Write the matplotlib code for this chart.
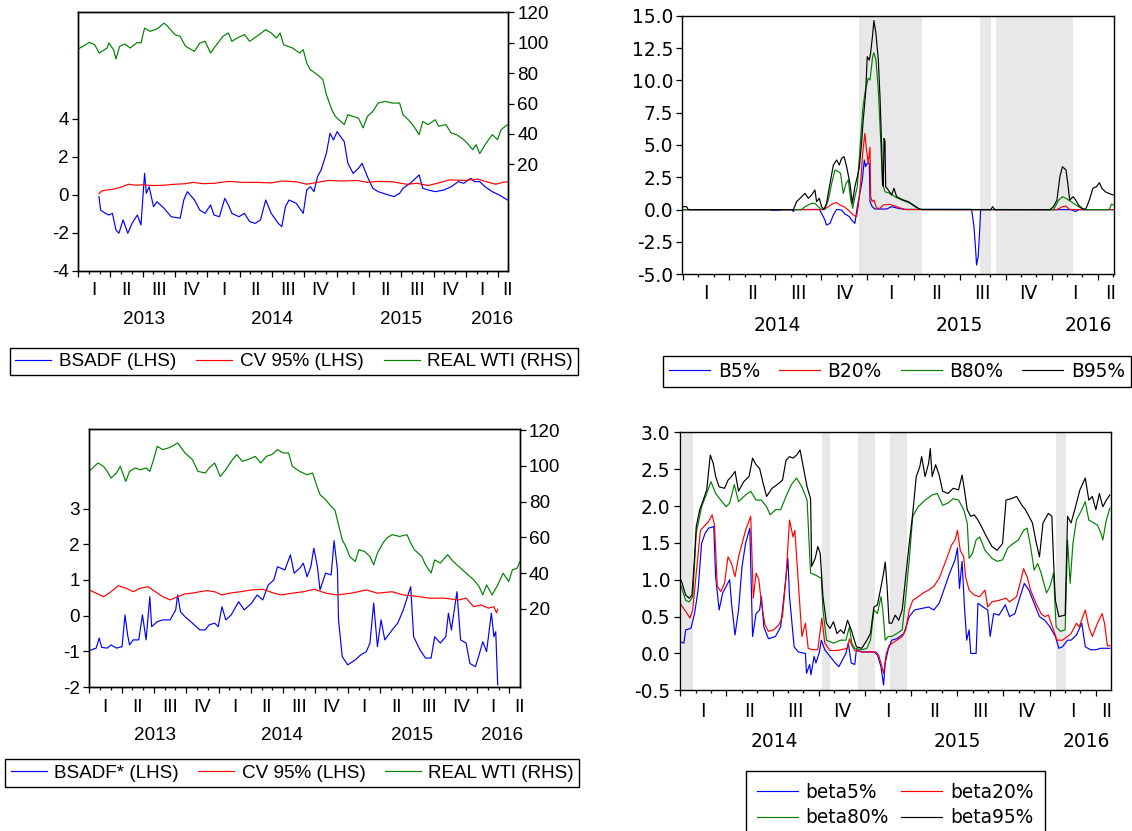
import matplotlib
matplotlib.use("Agg")
import matplotlib.pyplot as plt
import numpy as np

plt.rcParams['font.family'] = ['Liberation Sans', 'DejaVu Sans']
plt.rcParams['axes.unicode_minus'] = False

# ---------------- Panel 1 (top-left) ----------------
p1_wti_t = [2013.000, 2013.060, 2013.087, 2013.129, 2013.164, 2013.225, 2013.239, 2013.275, 2013.294, 2013.322,
            2013.363, 2013.404, 2013.459, 2013.487, 2013.515, 2013.556, 2013.611, 2013.666, 2013.694, 2013.749,
            2013.790, 2013.832, 2013.901, 2013.942, 2013.983, 2014.025, 2014.052, 2014.121, 2014.163, 2014.190,
            2014.232, 2014.287, 2014.328, 2014.383, 2014.452, 2014.494, 2014.535, 2014.563, 2014.590, 2014.659,
            2014.714, 2014.742, 2014.769, 2014.797, 2014.852, 2014.894, 2014.921, 2014.963, 2014.990, 2015.018,
            2015.059, 2015.087, 2015.128, 2015.169, 2015.205, 2015.238, 2015.280, 2015.321, 2015.376, 2015.431,
            2015.487, 2015.514, 2015.555, 2015.597, 2015.638, 2015.666, 2015.707, 2015.762, 2015.790, 2015.845,
            2015.886, 2015.928, 2015.983, 2016.010, 2016.052, 2016.079, 2016.107, 2016.148, 2016.204, 2016.245,
            2016.272, 2016.322]
p1_wti_v = [95.8, 98.7, 100.2, 98.7, 93.2, 96.5, 99.8, 95.4, 89.3, 97.6,
            99.1, 96.5, 100.2, 99.8, 109.6, 107.5, 109.0, 112.9, 110.7, 105.3,
            104.2, 97.6, 94.3, 99.8, 100.9, 93.2, 96.5, 104.2, 106.4, 100.9,
            103.1, 105.3, 100.9, 104.2, 108.6, 106.4, 103.1, 106.4, 98.7, 96.5,
            93.2, 95.4, 86.6, 82.2, 78.9, 75.7, 65.8, 55.9, 51.5, 49.3,
            46.1, 52.6, 51.5, 50.4, 43.9, 51.5, 54.8, 60.3, 61.4, 60.3,
            60.3, 52.6, 49.3, 45.0, 39.5, 48.2, 46.1, 49.3, 45.0, 46.1,
            40.6, 39.5, 36.2, 34.0, 29.6, 32.9, 27.0, 32.9, 39.5, 36.2,
            42.8, 46.1]
p1_bsadf_t = [2013.162, 2013.175, 2013.211, 2013.239, 2013.266, 2013.294, 2013.316, 2013.349, 2013.385, 2013.418,
              2013.459, 2013.487, 2013.515, 2013.528, 2013.550, 2013.584, 2013.611, 2013.666, 2013.721, 2013.790,
              2013.818, 2013.846, 2013.901, 2013.942, 2013.983, 2014.025, 2014.052, 2014.094, 2014.135, 2014.163,
              2014.190, 2014.245, 2014.287, 2014.328, 2014.370, 2014.411, 2014.452, 2014.494, 2014.549, 2014.576,
              2014.604, 2014.632, 2014.687, 2014.742, 2014.769, 2014.797, 2014.825, 2014.852, 2014.880, 2014.921,
              2014.949, 2014.976, 2015.004, 2015.031, 2015.059, 2015.087, 2015.128, 2015.169, 2015.197, 2015.238,
              2015.280, 2015.321, 2015.362, 2015.404, 2015.445, 2015.487, 2015.514, 2015.569, 2015.638, 2015.666,
              2015.707, 2015.762, 2015.831, 2015.886, 2015.942, 2015.983, 2016.038, 2016.066, 2016.107, 2016.148,
              2016.204, 2016.259, 2016.322]
p1_bsadf_v = [-0.10, -0.81, -0.98, -1.07, -0.98, -1.86, -2.03, -1.33, -2.03, -1.51,
              -1.07, -1.59, 1.12, 0.07, 0.42, -0.63, -0.37, -0.72, -1.16, -1.24,
              -0.28, 0.16, -0.28, -0.81, -0.98, -0.54, -1.07, -1.16, -0.19, -0.54,
              -0.98, -1.16, -0.98, -1.42, -1.51, -1.33, -0.28, -0.98, -1.51, -1.68,
              -0.63, -0.28, -0.45, -0.98, 0.25, 0.42, 0.16, 0.95, 1.30, 2.18,
              3.23, 2.88, 3.32, 3.05, 2.79, 1.65, 1.12, 1.39, 1.65, 0.95,
              0.34, 0.16, 0.07, -0.02, -0.10, 0.07, 0.34, 0.60, 1.04, 0.34,
              0.25, 0.16, 0.25, 0.42, 0.69, 0.60, 0.86, 0.69, 0.69, 0.42,
              0.16, -0.02, -0.28]
p1_cv_t = [2013.162, 2013.184, 2013.225, 2013.280, 2013.335, 2013.391, 2013.446, 2013.501, 2013.584, 2013.666,
           2013.749, 2013.832, 2013.887, 2013.970, 2014.052, 2014.163, 2014.273, 2014.383, 2014.494, 2014.576,
           2014.687, 2014.769, 2014.852, 2014.935, 2015.045, 2015.156, 2015.238, 2015.321, 2015.431, 2015.542,
           2015.624, 2015.707, 2015.790, 2015.873, 2015.983, 2016.093, 2016.176, 2016.231, 2016.286, 2016.322]
p1_cv_v = [0.05, 0.20, 0.25, 0.30, 0.40, 0.55, 0.50, 0.52, 0.48, 0.50,
           0.55, 0.58, 0.65, 0.58, 0.60, 0.70, 0.65, 0.65, 0.62, 0.72,
           0.68, 0.55, 0.65, 0.75, 0.72, 0.75, 0.65, 0.70, 0.68, 0.55,
           0.60, 0.48, 0.62, 0.78, 0.75, 0.82, 0.65, 0.55, 0.65, 0.68]

# ---------------- Panel 3 (bottom-left) ----------------
p3_wti_t = [2013.000, 2013.040, 2013.068, 2013.111, 2013.140, 2013.169, 2013.211, 2013.240, 2013.283, 2013.312,
            2013.355, 2013.397, 2013.440, 2013.469, 2013.498, 2013.526, 2013.569, 2013.612, 2013.641, 2013.684,
            2013.741, 2013.798, 2013.841, 2013.898, 2013.927, 2013.970, 2014.013, 2014.056, 2014.098, 2014.141,
            2014.184, 2014.227, 2014.284, 2014.327, 2014.370, 2014.413, 2014.456, 2014.499, 2014.542, 2014.571,
            2014.628, 2014.685, 2014.728, 2014.757, 2014.785, 2014.828, 2014.871, 2014.900, 2014.928, 2014.957,
            2014.985, 2015.014, 2015.057, 2015.086, 2015.129, 2015.171, 2015.200, 2015.229, 2015.272, 2015.300,
            2015.343, 2015.400, 2015.458, 2015.486, 2015.515, 2015.572, 2015.601, 2015.644, 2015.672, 2015.715,
            2015.772, 2015.815, 2015.858, 2015.915, 2015.973, 2016.015, 2016.044, 2016.073, 2016.116, 2016.159,
            2016.201, 2016.244, 2016.273, 2016.310, 2016.330]
p3_wti_v = [96.9, 99.7, 101.6, 99.7, 96.9, 93.2, 96.0, 99.7, 91.3, 96.9,
            98.8, 97.8, 98.8, 96.9, 103.5, 110.9, 109.1, 110.0, 110.9, 112.8,
            107.2, 103.5, 96.9, 96.0, 98.8, 101.6, 94.1, 97.8, 102.5, 106.3,
            102.5, 103.5, 105.3, 101.6, 105.3, 106.3, 109.1, 107.2, 107.2, 99.7,
            96.9, 95.0, 96.0, 89.5, 83.9, 81.1, 77.3, 75.4, 67.0, 58.6,
            54.9, 49.3, 46.5, 53.1, 52.1, 49.3, 44.6, 51.2, 56.8, 59.6,
            61.5, 60.5, 61.5, 56.8, 53.1, 49.3, 44.6, 40.0, 47.4, 45.6,
            50.3, 46.5, 43.7, 40.0, 36.3, 32.5, 27.8, 33.4, 27.8, 33.4,
            40.0, 35.3, 41.8, 42.8, 46.5]
p3_bsadf_t = [2013.000, 2013.054, 2013.077, 2013.097, 2013.140, 2013.169, 2013.211, 2013.254, 2013.277, 2013.297,
              2013.312, 2013.340, 2013.383, 2013.412, 2013.440, 2013.469, 2013.483, 2013.526, 2013.569, 2013.626,
              2013.669, 2013.684, 2013.706, 2013.741, 2013.798, 2013.855, 2013.898, 2013.927, 2013.970, 2013.998,
              2014.027, 2014.056, 2014.098, 2014.156, 2014.199, 2014.256, 2014.299, 2014.342, 2014.385, 2014.428,
              2014.456, 2014.513, 2014.556, 2014.585, 2014.628, 2014.656, 2014.685, 2014.714, 2014.737, 2014.765,
              2014.785, 2014.828, 2014.871, 2014.894, 2014.920, 2014.928, 2014.957, 2015.000, 2015.057, 2015.100,
              2015.143, 2015.171, 2015.200, 2015.229, 2015.257, 2015.286, 2015.343, 2015.386, 2015.429, 2015.486,
              2015.509, 2015.558, 2015.601, 2015.644, 2015.672, 2015.715, 2015.758, 2015.778, 2015.801, 2015.844,
              2015.872, 2015.915, 2015.944, 2015.987, 2016.015, 2016.044, 2016.073, 2016.110, 2016.130, 2016.144,
              2016.159]
p3_bsadf_v = [-0.98, -0.91, -0.63, -0.89, -0.91, -0.82, -0.91, -0.87, 0.02, -0.54,
              -0.82, -0.68, -0.68, 0.02, -0.68, 0.53, -0.31, -0.17, -0.12, -0.12,
              0.16, 0.58, 0.11, -0.03, -0.21, -0.40, -0.40, -0.26, -0.21, -0.31,
              0.25, -0.12, 0.02, 0.39, 0.16, 0.35, 0.58, 0.44, 0.86, 1.00,
              1.37, 1.28, 1.70, 1.19, 1.33, 1.47, 1.09, 1.37, 1.89, 1.37,
              0.72, 1.19, 1.14, 2.10, 1.28, -0.12, -1.15, -1.38, -1.24, -1.10,
              -1.01, -0.77, 0.35, -0.87, -0.12, -0.68, -0.40, -0.21, 0.16, 0.81,
              -0.59, -0.96, -1.19, -1.19, -0.59, -0.77, -0.59, 0.07, -0.40, 0.67,
              -0.68, -0.77, -1.34, -1.43, -1.10, -0.73, -1.01, 0.07, -0.59, -0.45,
              -1.94]
p3_cv_t = [2013.000, 2013.054, 2013.111, 2013.169, 2013.226, 2013.297, 2013.340, 2013.397, 2013.455, 2013.512,
           2013.569, 2013.626, 2013.684, 2013.741, 2013.798, 2013.855, 2013.912, 2013.970, 2014.027, 2014.084,
           2014.170, 2014.256, 2014.342, 2014.428, 2014.485, 2014.571, 2014.656, 2014.742, 2014.828, 2014.914,
           2015.028, 2015.143, 2015.229, 2015.343, 2015.429, 2015.515, 2015.629, 2015.744, 2015.858, 2015.915,
           2015.973, 2016.030, 2016.087, 2016.130, 2016.150, 2016.159]
p3_cv_v = [0.72, 0.63, 0.53, 0.67, 0.84, 0.75, 0.67, 0.77, 0.81, 0.67,
           0.53, 0.44, 0.53, 0.61, 0.63, 0.67, 0.70, 0.67, 0.58, 0.63,
           0.67, 0.72, 0.74, 0.63, 0.58, 0.63, 0.67, 0.74, 0.63, 0.58,
           0.63, 0.72, 0.63, 0.67, 0.58, 0.55, 0.49, 0.49, 0.44, 0.49,
           0.25, 0.30, 0.21, 0.25, 0.08, 0.18]

# ---------------- Panel 2 (top-right) ----------------
p2_b95_t = [2014.000, 2014.019, 2014.028, 2014.598, 2014.616, 2014.643, 2014.661, 2014.679, 2014.697, 2014.715,
            2014.724, 2014.739, 2014.751, 2014.764, 2014.778, 2014.797, 2014.815, 2014.833, 2014.847, 2014.860,
            2014.873, 2014.887, 2014.905, 2014.918, 2014.932, 2014.945, 2014.956, 2014.968, 2014.977, 2014.990,
            2014.999, 2015.010, 2015.017, 2015.028, 2015.035, 2015.046, 2015.059, 2015.068, 2015.077, 2015.082,
            2015.086, 2015.090, 2015.095, 2015.099, 2015.113, 2015.131, 2015.144, 2015.158, 2015.194, 2015.222,
            2015.249, 2015.276, 2015.294, 2015.669, 2015.679, 2015.692, 2015.990, 2016.009, 2016.028, 2016.044,
            2016.058, 2016.077, 2016.087, 2016.097, 2016.116, 2016.130, 2016.145, 2016.165, 2016.184, 2016.204,
            2016.223, 2016.243, 2016.258, 2016.272, 2016.291, 2016.311, 2016.334]
p2_b95_v = [0.23, 0.23, 0.0, 0.0, 0.62, 1.00, 1.26, 0.88, 1.13, 1.52,
            0.62, 0.88, 0.23, 0.02, 0.49, 2.03, 3.45, 3.84, 3.45, 3.97,
            4.10, 3.33, 2.03, 0.49, 1.78, 2.55, 3.33, 5.13, 6.93, 8.99,
            11.83, 11.57, 12.09, 13.51, 14.62, 13.64, 11.57, 8.74, 5.00, 2.03,
            1.80, 5.50, 5.30, 1.78, 1.52, 1.13, 1.65, 1.00, 0.75, 0.62,
            0.36, 0.10, 0.0, 0.0, 0.23, 0.0, 0.0, 0.23, 0.74, 2.55,
            3.32, 3.07, 2.03, 0.74, 1.00, 0.74, 0.36, 0.10, 0.02, 0.74,
            1.65, 1.78, 2.08, 1.65, 1.38, 1.25, 1.13]
p2_b80_t = [2014.000, 2014.643, 2014.661, 2014.679, 2014.697, 2014.715, 2014.733, 2014.751, 2014.769, 2014.788,
            2014.806, 2014.824, 2014.842, 2014.854, 2014.869, 2014.884, 2014.896, 2014.909, 2014.920, 2014.932,
            2014.945, 2014.959, 2014.974, 2014.986, 2015.004, 2015.014, 2015.028, 2015.035, 2015.046, 2015.059,
            2015.071, 2015.082, 2015.095, 2015.122, 2015.149, 2015.185, 2015.231, 2015.258, 2015.285, 2016.009,
            2016.038, 2016.058, 2016.077, 2016.106, 2016.145, 2016.174, 2016.311, 2016.324, 2016.334]
p2_b80_v = [0.0, 0.0, 0.23, 0.36, 0.49, 0.49, 0.23, 0.02, 0.05, 0.75,
            2.03, 3.07, 2.94, 2.81, 1.26, 2.03, 2.30, 0.75, 0.10, 1.00,
            1.78, 4.61, 7.71, 9.00, 10.16, 10.03, 11.83, 12.14, 11.57, 9.25,
            5.64, 2.03, 1.39, 1.26, 1.00, 0.75, 0.49, 0.23, 0.02, 0.0,
            0.74, 1.00, 0.87, 0.61, 0.23, 0.0, 0.0, 0.43, 0.36]
p2_b20_t = [2014.000, 2014.764, 2014.788, 2014.815, 2014.833, 2014.851, 2014.873, 2014.896, 2014.923, 2014.941,
            2014.950, 2014.963, 2014.974, 2014.986, 2014.995, 2015.004, 2015.014, 2015.017, 2015.026, 2015.035,
            2015.050, 2015.068, 2015.086, 2015.122, 2015.158, 2015.194, 2015.212, 2016.028, 2016.058, 2016.077,
            2016.097, 2016.334]
p2_b20_v = [0.0, 0.0, 0.23, 0.49, 0.54, 0.36, 0.23, -0.03, -0.41, -0.54,
            0.23, 2.03, 4.36, 5.90, 4.61, 3.58, 4.82, 1.00, 0.62, 0.75,
            0.10, 0.10, 0.36, 0.41, 0.23, 0.05, 0.0, 0.0, 0.23, 0.28,
            0.0, 0.0]
p2_b5_t = [2014.000, 2014.471, 2014.480, 2014.525, 2014.535, 2014.590, 2014.598, 2014.606, 2014.739, 2014.751,
           2014.769, 2014.778, 2014.797, 2014.815, 2014.833, 2014.860, 2014.878, 2014.887, 2014.902, 2014.914,
           2014.932, 2014.945, 2014.959, 2014.972, 2014.983, 2014.990, 2014.999, 2015.010, 2015.014, 2015.026,
           2015.040, 2015.104, 2015.131, 2015.167, 2015.203, 2015.565, 2015.578, 2015.587, 2015.592, 2015.601,
           2015.610, 2015.614, 2016.106, 2016.130, 2016.145, 2016.334]
p2_b5_v = [0.0, 0.0, -0.05, -0.05, 0.0, 0.0, -0.15, 0.0, 0.02, -0.28,
           -0.80, -1.19, -1.06, -0.41, 0.02, -0.03, -0.34, -0.41, -0.54, -0.80,
           -1.06, 0.23, 1.26, 2.29, 3.84, 3.33, 3.58, 3.58, 0.62, 0.23,
           0.05, 0.05, 0.23, 0.10, 0.02, 0.02, -1.32, -3.12, -4.28, -3.63,
           -1.31, 0.0, 0.0, -0.15, 0.0, 0.0]
p2_shade_start = [2014.953, 2015.613, 2015.696]
p2_shade_end = [2015.294, 2015.671, 2016.114]

# ---------------- Panel 4 (bottom-right) ----------------
p4_b95_t = [2014.000, 2014.011, 2014.030, 2014.049, 2014.064, 2014.078, 2014.087, 2014.106, 2014.125, 2014.144,
            2014.163, 2014.179, 2014.192, 2014.211, 2014.240, 2014.259, 2014.278, 2014.297, 2014.316, 2014.344,
            2014.373, 2014.392, 2014.411, 2014.430, 2014.449, 2014.468, 2014.497, 2014.525, 2014.554, 2014.573,
            2014.592, 2014.611, 2014.630, 2014.649, 2014.668, 2014.687, 2014.706, 2014.712, 2014.731, 2014.745,
            2014.758, 2014.773, 2014.792, 2014.811, 2014.830, 2014.849, 2014.868, 2014.887, 2014.906, 2014.926,
            2014.954, 2014.983, 2015.011, 2015.030, 2015.049, 2015.068, 2015.087, 2015.101, 2015.110, 2015.120,
            2015.131, 2015.145, 2015.164, 2015.183, 2015.202, 2015.221, 2015.240, 2015.259, 2015.278, 2015.297,
            2015.307, 2015.326, 2015.345, 2015.354, 2015.364, 2015.383, 2015.402, 2015.421, 2015.450, 2015.478,
            2015.507, 2015.526, 2015.539, 2015.554, 2015.573, 2015.592, 2015.612, 2015.631, 2015.659, 2015.688,
            2015.716, 2015.745, 2015.764, 2015.793, 2015.821, 2015.850, 2015.869, 2015.888, 2015.907, 2015.926,
            2015.945, 2015.964, 2015.993, 2016.012, 2016.021, 2016.031, 2016.050, 2016.084, 2016.097, 2016.116,
            2016.136, 2016.164, 2016.193, 2016.212, 2016.231, 2016.250, 2016.269, 2016.288, 2016.307, 2016.326]
p4_b95_v = [1.02, 0.95, 0.79, 0.75, 0.79, 1.31, 1.72, 1.95, 2.08, 2.22,
            2.69, 2.58, 2.40, 2.26, 2.24, 2.35, 2.40, 2.47, 2.20, 2.33,
            2.40, 2.65, 2.56, 2.51, 2.31, 2.13, 2.24, 2.29, 2.35, 2.62,
            2.67, 2.65, 2.69, 2.76, 2.51, 2.26, 2.10, 1.18, 1.29, 1.45,
            1.36, 0.77, 0.41, 0.34, 0.43, 0.27, 0.32, 0.27, 0.45, 0.32,
            0.09, 0.07, 0.18, 0.27, 0.63, 0.66, 0.90, 1.09, 1.24, 0.91,
            0.41, 0.41, 0.52, 0.45, 0.59, 1.04, 1.49, 1.90, 2.40, 2.53,
            2.67, 2.40, 2.58, 2.78, 2.40, 2.56, 2.42, 2.20, 2.17, 2.24,
            2.22, 2.42, 2.22, 1.95, 1.86, 1.88, 1.81, 1.72, 1.58, 1.45,
            1.40, 1.49, 2.08, 2.10, 2.13, 2.01, 1.95, 1.86, 1.77, 1.52,
            1.31, 1.77, 1.90, 1.86, 1.27, 0.72, 0.50, 0.52, 1.86, 1.77,
            1.95, 2.22, 2.38, 2.08, 2.13, 1.95, 2.17, 1.99, 2.08, 2.15]
p4_b80_t = [2014.000, 2014.030, 2014.049, 2014.068, 2014.087, 2014.116, 2014.144, 2014.167, 2014.192, 2014.220,
            2014.249, 2014.268, 2014.293, 2014.316, 2014.354, 2014.382, 2014.411, 2014.440, 2014.468, 2014.487,
            2014.516, 2014.544, 2014.573, 2014.602, 2014.630, 2014.659, 2014.687, 2014.706, 2014.735, 2014.764,
            2014.773, 2014.792, 2014.830, 2014.868, 2014.897, 2014.916, 2014.929, 2014.945, 2014.983, 2015.011,
            2015.030, 2015.049, 2015.068, 2015.087, 2015.097, 2015.110, 2015.126, 2015.145, 2015.173, 2015.202,
            2015.221, 2015.240, 2015.259, 2015.288, 2015.326, 2015.364, 2015.392, 2015.421, 2015.450, 2015.478,
            2015.507, 2015.535, 2015.554, 2015.564, 2015.583, 2015.602, 2015.621, 2015.650, 2015.688, 2015.716,
            2015.745, 2015.773, 2015.802, 2015.831, 2015.859, 2015.878, 2015.897, 2015.916, 2015.935, 2015.954,
            2015.983, 2016.002, 2016.021, 2016.035, 2016.059, 2016.084, 2016.097, 2016.111, 2016.126, 2016.145,
            2016.174, 2016.193, 2016.212, 2016.240, 2016.259, 2016.278, 2016.288, 2016.307, 2016.326]
p4_b80_v = [0.95, 0.72, 0.70, 0.77, 1.63, 1.99, 2.17, 2.33, 2.17, 2.08,
            1.99, 2.04, 2.29, 2.06, 2.15, 2.20, 2.08, 2.08, 1.99, 1.88,
            1.95, 1.95, 2.13, 2.29, 2.38, 2.26, 2.08, 1.09, 1.06, 1.02,
            0.59, 0.18, 0.14, 0.18, 0.18, 0.36, 0.14, 0.07, 0.05, 0.07,
            0.18, 0.59, 0.54, 0.77, 0.59, 0.18, 0.23, 0.23, 0.27, 0.32,
            0.77, 1.27, 1.86, 1.99, 2.08, 2.15, 2.17, 2.01, 2.04, 2.10,
            2.08, 1.95, 1.77, 1.29, 1.36, 1.54, 1.58, 1.40, 1.29, 1.25,
            1.27, 1.43, 1.49, 1.54, 1.67, 1.70, 1.45, 1.13, 1.22, 1.09,
            0.82, 0.91, 1.09, 0.36, 0.30, 0.32, 1.54, 0.95, 1.49, 1.81,
            1.95, 2.06, 1.81, 1.77, 1.74, 1.63, 1.54, 1.81, 1.97]
p4_b20_t = [2014.000, 2014.030, 2014.053, 2014.068, 2014.087, 2014.110, 2014.135, 2014.154, 2014.173, 2014.186,
            2014.201, 2014.220, 2014.240, 2014.259, 2014.278, 2014.297, 2014.316, 2014.335, 2014.354, 2014.382,
            2014.396, 2014.411, 2014.426, 2014.440, 2014.459, 2014.478, 2014.506, 2014.535, 2014.554, 2014.573,
            2014.592, 2014.611, 2014.621, 2014.640, 2014.659, 2014.678, 2014.693, 2014.716, 2014.745, 2014.767,
            2014.783, 2014.811, 2014.849, 2014.906, 2014.916, 2014.929, 2014.945, 2014.983, 2015.059, 2015.074,
            2015.087, 2015.101, 2015.116, 2015.131, 2015.173, 2015.202, 2015.221, 2015.240, 2015.259, 2015.288,
            2015.316, 2015.345, 2015.373, 2015.402, 2015.440, 2015.469, 2015.488, 2015.501, 2015.516, 2015.535,
            2015.545, 2015.564, 2015.592, 2015.621, 2015.650, 2015.665, 2015.688, 2015.726, 2015.764, 2015.783,
            2015.821, 2015.840, 2015.859, 2015.878, 2015.897, 2015.926, 2015.954, 2015.974, 2015.993, 2016.021,
            2016.040, 2016.069, 2016.097, 2016.116, 2016.145, 2016.160, 2016.193, 2016.212, 2016.231, 2016.259,
            2016.284, 2016.297, 2016.313, 2016.326]
p4_b20_v = [0.68, 0.57, 0.48, 0.59, 1.09, 1.67, 1.74, 1.79, 1.88, 1.74,
            0.91, 0.84, 0.95, 1.31, 1.22, 1.04, 1.31, 1.49, 1.67, 1.86,
            0.75, 1.09, 1.00, 0.68, 0.39, 0.30, 0.32, 0.39, 0.50, 1.04,
            1.81, 1.58, 1.67, 0.95, 0.23, 0.41, 0.07, 0.05, 0.05, 0.48,
            0.14, 0.04, 0.04, 0.07, 0.20, 0.11, 0.04, 0.02, 0.02, -0.02,
            -0.13, -0.27, 0.00, 0.11, 0.18, 0.23, 0.32, 0.59, 0.72, 0.77,
            0.82, 0.86, 0.91, 1.02, 1.27, 1.47, 1.54, 1.67, 1.40, 1.31,
            1.04, 0.86, 0.79, 0.77, 0.86, 0.63, 0.70, 0.72, 0.75, 0.70,
            0.77, 0.95, 1.15, 1.04, 0.86, 0.68, 0.54, 0.50, 0.52, 0.32,
            0.18, 0.18, 0.23, 0.27, 0.41, 0.36, 0.59, 0.36, 0.23, 0.41,
            0.54, 0.41, 0.10, 0.11]
p4_b5_t = [2014.000, 2014.020, 2014.030, 2014.058, 2014.078, 2014.097, 2014.116, 2014.135, 2014.154, 2014.182,
           2014.192, 2014.211, 2014.230, 2014.268, 2014.278, 2014.297, 2014.316, 2014.335, 2014.354, 2014.377,
           2014.392, 2014.411, 2014.430, 2014.440, 2014.453, 2014.478, 2014.516, 2014.544, 2014.573, 2014.583,
           2014.592, 2014.602, 2014.617, 2014.640, 2014.678, 2014.684, 2014.701, 2014.708, 2014.725, 2014.735,
           2014.754, 2014.764, 2014.783, 2014.811, 2014.840, 2014.859, 2014.878, 2014.897, 2014.910, 2014.926,
           2014.945, 2014.954, 2014.983, 2015.049, 2015.068, 2015.087, 2015.101, 2015.110, 2015.126, 2015.145,
           2015.173, 2015.211, 2015.240, 2015.269, 2015.307, 2015.345, 2015.373, 2015.402, 2015.430, 2015.459,
           2015.488, 2015.501, 2015.512, 2015.526, 2015.539, 2015.551, 2015.564, 2015.573, 2015.602, 2015.612,
           2015.640, 2015.665, 2015.678, 2015.697, 2015.726, 2015.760, 2015.783, 2015.812, 2015.840, 2015.863,
           2015.888, 2015.916, 2015.945, 2015.974, 2016.002, 2016.031, 2016.050, 2016.069, 2016.097, 2016.116,
           2016.145, 2016.174, 2016.193, 2016.221, 2016.250, 2016.278, 2016.326]
p4_b5_v = [0.16, 0.14, 0.32, 0.34, 0.54, 0.86, 1.49, 1.63, 1.70, 1.72,
           1.04, 0.59, 0.82, 1.00, 0.68, 0.25, 0.59, 1.18, 1.49, 1.70,
           0.23, 0.54, 0.59, 0.77, 0.36, 0.20, 0.23, 0.36, 1.04, 1.29,
           0.77, 0.50, 0.09, 0.02, 0.00, -0.27, -0.15, -0.29, -0.04, -0.13,
           0.02, 0.18, 0.05, -0.04, -0.13, -0.18, -0.09, 0.00, 0.14, -0.13,
           -0.15, 0.05, 0.02, 0.02, -0.02, -0.18, -0.43, -0.13, 0.05, 0.18,
           0.20, 0.27, 0.50, 0.59, 0.61, 0.63, 0.59, 0.68, 0.88, 1.09,
           1.27, 1.43, 0.88, 1.25, 0.63, 0.18, 0.32, 0.00, 0.00, 0.68,
           0.63, 0.59, 0.23, 0.54, 0.52, 0.66, 0.50, 0.54, 0.77, 0.95,
           0.86, 0.68, 0.50, 0.45, 0.36, 0.23, 0.07, 0.09, 0.18, 0.18,
           0.25, 0.41, 0.09, 0.05, 0.05, 0.07, 0.07]
p4_shade_start = [2014.011, 2014.767, 2014.960, 2015.135, 2016.034]
p4_shade_end = [2014.072, 2014.811, 2015.053, 2015.227, 2016.091]

quarter_names = ['I', 'II', 'III', 'IV']

# ---------------- figure ----------------
W, H = 1132, 831
LEFT_FONT = ['Liberation Sans', 'DejaVu Sans']
RIGHT_FONT = ['DejaVu Sans']
FS_L = 13.6
FS_R = 13.4
BLUE, RED, GREEN, BLACK = '#0000ff', '#ff0000', '#008000', '#000000'
LW = 0.85
fig = plt.figure(figsize=(W / 100, H / 100), dpi=100)


def add_ax(left, top, right, bottom):
    return fig.add_axes([left / W, 1 - bottom / H, (right - left) / W, (bottom - top) / H])


def style_frame(ax):
    for s in ax.spines.values():
        s.set_linewidth(1.0)
        s.set_color('black')


def style_yticks(ax, fs, family):
    ax.tick_params(axis='y', direction='out', length=4.5, width=0.9, labelsize=fs, pad=2)
    for lab in ax.get_yticklabels():
        lab.set_family(family)


def time_axis(ax, x0, x1, q_off, y_off, year_pos, year_lab, last_pos, fs, family):
    ax.set_xlim(x0, x1)
    majors = np.arange(np.ceil(x0 * 4 - 1e-6) / 4, x1, 0.25)
    minors = np.arange(np.ceil(x0 * 12 - 1e-6) / 12, x1, 1 / 12)
    ax.set_xticks(majors)
    ax.set_xticks(minors, minor=True)
    ax.tick_params(axis='x', which='major', direction='out', length=4.2, width=0.9, labelbottom=False)
    ax.tick_params(axis='x', which='minor', direction='out', length=2.2, width=0.9, labelbottom=False)
    tr = ax.get_xaxis_transform()
    for q in majors:
        k = int(round(q * 4)) % 4
        pos = q + 0.125 if q + 0.25 <= x1 + 1e-6 else last_pos
        ax.annotate(quarter_names[k], xy=(pos, 0), xycoords=tr, xytext=(0, -q_off),
                    textcoords='offset points', ha='center', va='center', fontsize=fs, family=family)
    for p, lab in zip(year_pos, year_lab):
        ax.annotate(lab, xy=(p, 0), xycoords=tr, xytext=(0, -y_off),
                    textcoords='offset points', ha='center', va='center', fontsize=fs, family=family)


def legend_box(handles, labels, left, top, right, bottom, ncol, fs, family, **kw):
    opts = dict(borderpad=0.28, handlelength=2.0, handletextpad=0.4, columnspacing=0.6)
    opts.update(kw)
    leg = fig.legend(handles, labels, loc='upper left',
                     bbox_to_anchor=(left / W, 1 - bottom / H, (right - left) / W, (bottom - top) / H),
                     bbox_transform=fig.transFigure, mode='expand', ncol=ncol,
                     prop={'family': family, 'size': fs},
                     frameon=True, fancybox=False, edgecolor='black', framealpha=1,
                     borderaxespad=0, **opts)
    leg.get_frame().set_linewidth(1.0)
    return leg


# ---- Panel 1 ----
ax1 = add_ax(78, 12.3, 508.2, 270.7)
l1, = ax1.plot(p1_bsadf_t, p1_bsadf_v, color=BLUE, lw=LW)
l2, = ax1.plot(p1_cv_t, p1_cv_v, color=RED, lw=LW)
ax1.set_ylim(-4, 9.6)
ax1.set_yticks([-4, -2, 0, 2, 4])
style_yticks(ax1, FS_L, LEFT_FONT)
ax1b = ax1.twinx()
l3, = ax1b.plot(p1_wti_t, p1_wti_v, color=GREEN, lw=LW)
ax1b.set_ylim(-50, 120)
ax1b.set_yticks([20, 40, 60, 80, 100, 120])
style_yticks(ax1b, FS_L, LEFT_FONT)
time_axis(ax1, 2013.0, 2016.327, 13.9, 34.8, [2013.51, 2014.50, 2015.50, 2016.20],
          ['2013', '2014', '2015', '2016'], 2016.325, FS_L, LEFT_FONT)
style_frame(ax1); style_frame(ax1b)
legend_box([l1, l2, l3], ['BSADF (LHS)', 'CV 95% (LHS)', 'REAL WTI (RHS)'], 10, 347.7, 578, 378.3, 3,
           FS_L, LEFT_FONT, handlelength=1.9)

# ---- Panel 3 ----
ax3 = add_ax(88.8, 429, 519.8, 687)
m1, = ax3.plot(p3_bsadf_t, p3_bsadf_v, color=BLUE, lw=LW)
m2, = ax3.plot(p3_cv_t, p3_cv_v, color=RED, lw=LW)
ax3.set_ylim(-2, 5.23)
ax3.set_yticks([-2, -1, 0, 1, 2, 3])
style_yticks(ax3, FS_L, LEFT_FONT)
ax3b = ax3.twinx()
m3, = ax3b.plot(p3_wti_t, p3_wti_v, color=GREEN, lw=LW)
ax3b.set_ylim(-23.7, 120.6)
ax3b.set_yticks([20, 40, 60, 80, 100, 120])
style_yticks(ax3b, FS_L, LEFT_FONT)
time_axis(ax3, 2012.997, 2016.330, 14.9, 35.1, [2013.506, 2014.493, 2015.495, 2016.196],
          ['2013', '2014', '2015', '2016'], 2016.324, FS_L, LEFT_FONT)
style_frame(ax3); style_frame(ax3b)
legend_box([m1, m2, m3], ['BSADF* (LHS)', 'CV 95% (LHS)', 'REAL WTI (RHS)'], 5.5, 759, 579, 789.3, 3,
           FS_L, LEFT_FONT, handlelength=1.9)

# ---- Panel 2 ----
ax2 = add_ax(682.2, 15.7, 1113.7, 274.3)
for s0, s1 in zip(p2_shade_start, p2_shade_end):
    ax2.axvspan(s0, s1, color='#e8e8e8', lw=0, zorder=0)
n1, = ax2.plot(p2_b5_t, p2_b5_v, color=BLUE, lw=LW)
n2, = ax2.plot(p2_b20_t, p2_b20_v, color=RED, lw=LW)
n3, = ax2.plot(p2_b80_t, p2_b80_v, color=GREEN, lw=LW)
n4, = ax2.plot(p2_b95_t, p2_b95_v, color=BLACK, lw=LW)
ax2.set_ylim(-5, 15)
ax2.set_yticks(np.arange(-5, 15.01, 2.5))
ax2.yaxis.set_major_formatter(matplotlib.ticker.FormatStrFormatter('%.1f'))
style_yticks(ax2, FS_R, RIGHT_FONT)
time_axis(ax2, 2013.995, 2016.336, 13.7, 37.0, [2014.51, 2015.50, 2016.20],
          ['2014', '2015', '2016'], 2016.322, FS_R, RIGHT_FONT)
style_frame(ax2)
legend_box([n1, n2, n3, n4], ['B5%', 'B20%', 'B80%', 'B95%'], 663.2, 355.7, 1131, 388.3, 4,
           FS_R, RIGHT_FONT, handlelength=2.2, borderpad=0.33)

# ---- Panel 4 ----
ax4 = add_ax(679.6, 432.3, 1110.6, 690.3)
for s0, s1 in zip(p4_shade_start, p4_shade_end):
    ax4.axvspan(s0, s1, color='#e8e8e8', lw=0, zorder=0)
o1, = ax4.plot(p4_b5_t, p4_b5_v, color=BLUE, lw=LW)
o2, = ax4.plot(p4_b20_t, p4_b20_v, color=RED, lw=LW)
o3, = ax4.plot(p4_b80_t, p4_b80_v, color=GREEN, lw=LW)
o4, = ax4.plot(p4_b95_t, p4_b95_v, color=BLACK, lw=LW)
ax4.set_ylim(-0.5, 3.0)
ax4.set_yticks(np.arange(-0.5, 3.01, 0.5))
ax4.yaxis.set_major_formatter(matplotlib.ticker.FormatStrFormatter('%.1f'))
style_yticks(ax4, FS_R, RIGHT_FONT)
time_axis(ax4, 2013.997, 2016.330, 15.4, 37.0, [2014.51, 2015.50, 2016.196],
          ['2014', '2015', '2016'], 2016.311, FS_R, RIGHT_FONT)
style_frame(ax4)
legend_box([o1, o3, o2, o4], ['beta5%', 'beta80%', 'beta20%', 'beta95%'], 745.5, 771, 1044.8, 845, 2,
           FS_R, RIGHT_FONT, handlelength=2.2, labelspacing=0.37, borderpad=0.62)

fig.savefig('out.png', dpi=100)
